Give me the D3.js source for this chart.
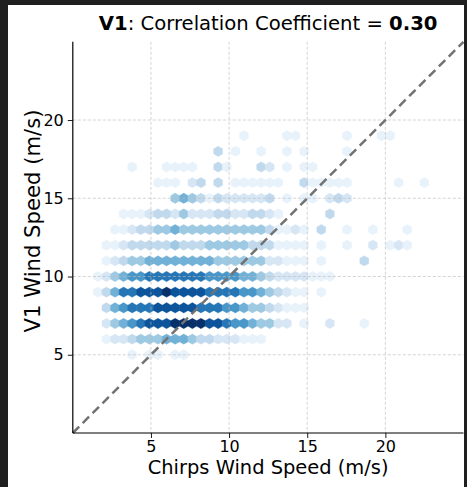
<!DOCTYPE html>
<html>
<head>
<meta charset="utf-8">
<script src="https://cdn.jsdelivr.net/npm/d3@7"></script>
<style>
  html, body { margin: 0; padding: 0; background: #ffffff; }
  svg { display: block; }
  text { font-family: "DejaVu Sans", sans-serif; fill: #000; }
</style>
</head>
<body>
<svg id="chart" width="467" height="487"></svg>
<script>
// ---------------- data ----------------
const titleLead = "V1";
const titleMid = ": Correlation Coefficient = ";
const titleValue = "0.30";
const xLabel = "Chirps Wind Speed (m/s)";
const yLabel = "V1 Wind Speed (m/s)";
const xTicks = [5, 10, 15, 20];
const yTicks = [5, 10, 15, 20];
const axisDomain = [0, 25];

// hexbin columns: centre of first column and column step (m/s)
const hexColStart = 1.6;
const hexColStep = 0.55;
// V1 wind speed of each hexbin row (m/s)
const hexRows = [5, 6, 7, 8, 9, 10, 11, 12, 13, 14, 15, 16, 17, 18, 19];
// relative counts (0 = empty, 9 = max) per row, per column
const row05 = [0,0,0,0,1,0,1,1,0,1,1,0,0,0,0,0,0,0,0,0, 0,0,0,0,0,0,0,0,0,0, 0,0,0,0,0,0,0,0,0,0];
const row06 = [0,1,2,2,3,4,4,4,5,5,5,4,3,3,2,2,2,1,1,1, 0,0,0,0,0,0,0,0,0,0, 0,0,0,0,0,0,0,0,0,0];
const row07 = [0,2,4,5,6,7,8,8,8,9,9,9,9,8,8,7,6,6,5,4, 4,2,2,0,1,0,0,2,0,0, 0,1,0,0,0,0,0,0,0,0];
const row08 = [0,3,5,6,7,7,7,8,8,8,8,8,7,7,7,6,6,5,4,4, 3,2,1,1,1,0,0,0,0,0, 0,0,0,0,0,0,0,0,0,0];
const row09 = [1,3,5,7,7,8,8,8,9,8,8,8,8,7,7,7,7,6,6,5, 4,3,2,1,1,0,1,0,0,0, 0,0,0,0,0,0,0,0,0,0];
const row10 = [1,2,4,5,6,6,7,7,7,7,7,7,7,6,6,6,6,5,5,4, 3,2,2,2,2,1,1,1,0,0, 0,0,0,0,0,0,0,0,0,0];
const row11 = [0,1,2,3,4,4,5,5,5,5,5,5,5,5,4,4,4,4,4,4, 2,2,1,1,1,0,1,0,0,0, 0,3,0,0,0,0,0,0,0,0];
const row12 = [0,1,1,2,3,3,3,3,3,4,3,3,3,4,4,4,4,4,3,3, 3,1,1,1,1,0,1,0,0,1, 0,0,2,0,1,2,1,0,0,0];
const row13 = [0,0,1,1,2,3,3,4,4,5,4,4,4,4,4,4,4,4,4,4, 3,1,1,2,1,0,3,0,0,1, 0,0,1,0,0,0,1,0,0,0];
const row14 = [0,0,0,1,1,1,2,3,3,2,4,2,2,2,3,3,2,2,3,3, 2,1,0,0,0,0,0,3,0,0, 0,0,0,0,0,0,0,0,0,0];
const row15 = [0,0,0,0,0,0,0,0,0,4,5,4,3,1,3,2,2,2,2,2, 3,0,1,0,1,1,0,2,3,2, 0,0,0,0,0,0,0,0,0,0];
const row16 = [0,0,0,0,0,0,0,1,1,1,0,2,3,0,3,0,1,1,1,1, 1,1,0,0,3,1,1,1,1,1, 0,0,0,0,0,1,0,0,1,0];
const row17 = [0,0,0,0,1,0,0,0,1,1,1,1,0,0,3,1,0,0,0,3, 2,0,1,0,1,1,0,0,0,0, 0,0,0,0,0,0,0,0,0,0];
const row18 = [0,0,0,0,0,0,0,0,0,0,0,0,0,0,3,0,1,0,0,1, 0,0,1,0,1,0,0,0,0,1, 0,0,0,0,0,0,0,0,0,0];
const row19 = [0,0,0,0,0,0,0,0,0,0,0,0,0,0,0,0,0,1,0,0, 0,0,1,1,0,0,0,0,0,1, 0,0,0,1,1,0,0,0,0,0];
const hexCounts = [row05,row06,row07,row08,row09,row10,row11,row12,row13,row14,row15,row16,row17,row18,row19];
const maxCount = 9;

// ---------------- layout ----------------
const svg = d3.select("#chart");
const W = 467, H = 487;
const plot = { left: 72.8, right: 463.5, top: 41.8, bottom: 433 };

const x = d3.scaleLinear().domain(axisDomain).range([plot.left, plot.right]);
const y = d3.scaleLinear().domain(axisDomain).range([plot.bottom, plot.top]);
const color = v => d3.interpolateBlues(0.01 + 0.99 * Math.pow(v / maxCount, 1.25));

svg.append("rect").attr("width", W).attr("height", H).attr("fill", "#ffffff");

// hexbins
const cells = [];
hexRows.forEach((rv, r) => {
  hexCounts[r].forEach((c, i) => {
    if (c > 0) cells.push({ xv: hexColStart + i * hexColStep, yv: rv, c });
  });
});
const hw = Math.abs(x(hexColStep) - x(0)) / 2 + 0.2; // half width
const hh = 5.2;                                       // half height (pointy)
const hexPath = `M0,${-hh}L${hw},${-hh/2}L${hw},${hh/2}L0,${hh}L${-hw},${hh/2}L${-hw},${-hh/2}Z`;
svg.append("g").attr("class", "hexes")
  .selectAll("path").data(cells).join("path")
  .attr("d", hexPath)
  .attr("transform", d => `translate(${x(d.xv)},${y(d.yv)})`)
  .attr("fill", d => color(d.c))
  .attr("stroke", d => color(d.c))
  .attr("stroke-width", 0.3);

// grid
const grid = svg.append("g").attr("class", "grid")
  .attr("stroke", "#bdbdbd").attr("stroke-width", 0.8)
  .attr("stroke-dasharray", "3,2").attr("opacity", 0.8);
grid.selectAll("line.v").data(xTicks).join("line").attr("class", "v")
  .attr("x1", d => x(d)).attr("x2", d => x(d))
  .attr("y1", plot.top).attr("y2", plot.bottom);
grid.selectAll("line.h").data(yTicks).join("line").attr("class", "h")
  .attr("y1", d => y(d)).attr("y2", d => y(d))
  .attr("x1", plot.left).attr("x2", plot.right);

// 1:1 line
svg.append("line")
  .attr("x1", x(axisDomain[0])).attr("y1", y(axisDomain[0]))
  .attr("x2", x(axisDomain[1])).attr("y2", y(axisDomain[1]))
  .attr("stroke", "#727272").attr("stroke-width", 2.5)
  .attr("stroke-dasharray", "9,5");

// axes
const xAxis = d3.axisBottom(x).tickValues(xTicks).tickSize(5).tickPadding(4).tickFormat(d3.format("d"));
const yAxis = d3.axisLeft(y).tickValues(yTicks).tickSize(5).tickPadding(4).tickFormat(d3.format("d"));
const gx = svg.append("g").attr("transform", `translate(0,${plot.bottom})`).call(xAxis);
const gy = svg.append("g").attr("transform", `translate(${plot.left},0)`).call(yAxis);
[gx, gy].forEach(g => {
  g.select(".domain").remove();
  g.selectAll(".tick line").attr("stroke", "#000").attr("stroke-width", 0.9);
  g.selectAll(".tick text").style("font-family", "DejaVu Sans").style("font-size", "16px").attr("fill", "#000");
});
svg.append("line").attr("x1", plot.left).attr("x2", plot.right)
  .attr("y1", plot.bottom).attr("y2", plot.bottom)
  .attr("stroke", "#000").attr("stroke-width", 1.2);
svg.append("line").attr("x1", plot.left).attr("x2", plot.left)
  .attr("y1", plot.top).attr("y2", plot.bottom)
  .attr("stroke", "#000").attr("stroke-width", 1.2);
gx.selectAll(".tick text").attr("dy", null).attr("y", 19);

// fit helper
function fitText(sel, targetWidth) {
  const base = 20;
  sel.style("font-size", base + "px");
  const len = sel.node().getComputedTextLength();
  sel.style("font-size", (base * targetWidth / len) + "px");
}

// title
const title = svg.append("text").attr("x", (plot.left + plot.right) / 2).attr("y", 30)
  .attr("text-anchor", "middle");
title.append("tspan").attr("font-weight", "bold").text(titleLead);
title.append("tspan").text(titleMid);
title.append("tspan").attr("font-weight", "bold").text(titleValue);
fitText(title, 339);

// axis labels
const xl = svg.append("text").attr("x", (plot.left + plot.right) / 2).attr("y", 474)
  .attr("text-anchor", "middle").text(xLabel);
fitText(xl, 241);
const yl = svg.append("text")
  .attr("transform", `translate(40,221) rotate(-90)`)
  .attr("text-anchor", "middle").text(yLabel);
fitText(yl, 223);

// dark outer frame (screenshot border)
svg.append("rect").attr("x", 0).attr("y", 0).attr("width", 8).attr("height", H).attr("fill", "#1f1f1f");
svg.append("rect").attr("x", 0).attr("y", 0).attr("width", W).attr("height", 5).attr("fill", "#1f1f1f");
svg.append("rect").attr("x", 464).attr("y", 0).attr("width", 3).attr("height", H).attr("fill", "#1f1f1f");
</script>
</body>
</html>
